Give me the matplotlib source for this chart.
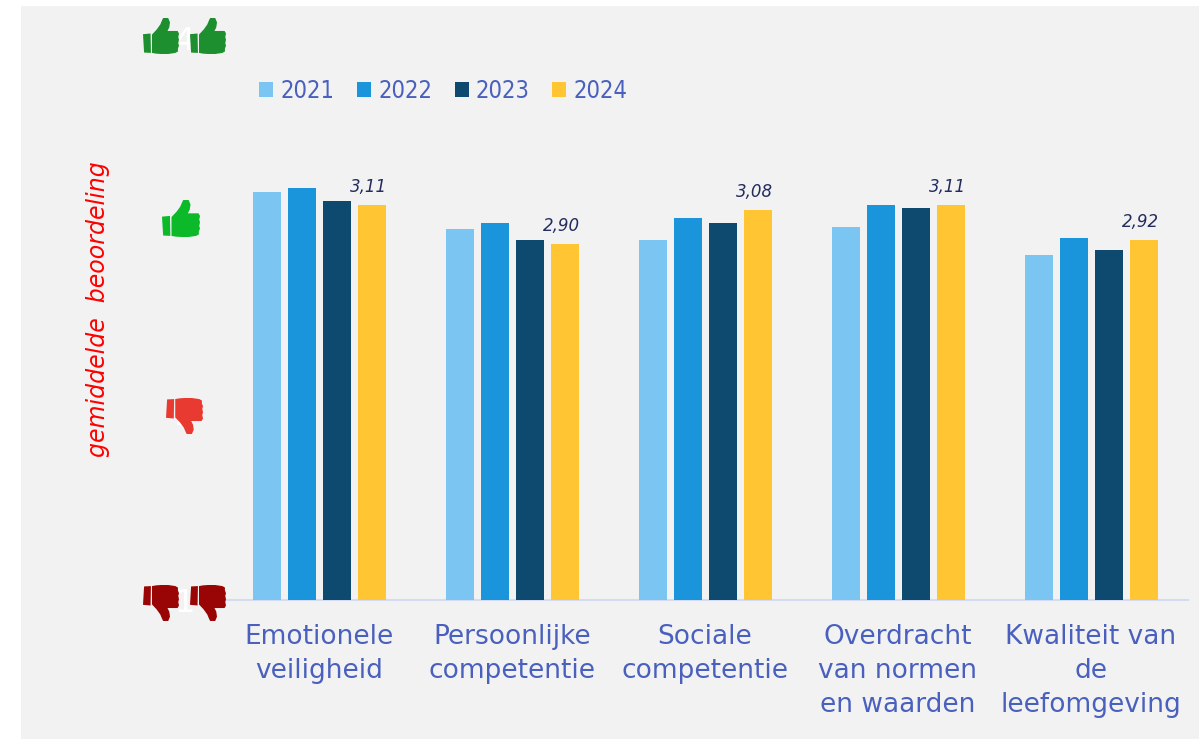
import numpy as np
import matplotlib
matplotlib.use("Agg")
import matplotlib.pyplot as plt
from matplotlib.patches import Polygon, Rectangle

categories = ["Emotionele\nveiligheid", "Persoonlijke\ncompetentie", "Sociale\ncompetentie",
              "Overdracht\nvan normen\nen waarden", "Kwaliteit van\nde\nleefomgeving"]
years = ["2021", "2022", "2023", "2024"]
v2021 = [3.18, 2.98, 2.92, 2.99, 2.84]
v2022 = [3.20, 3.01, 3.04, 3.11, 2.93]
v2023 = [3.13, 2.92, 3.01, 3.09, 2.87]
v2024 = [3.11, 2.90, 3.08, 3.11, 2.92]
y_ticks = [1, 2, 3, 4]

colors = ["#7AC5F2", "#1A94DA", "#0E4A70", "#FFC533"]
text_blue = "#4A60BE"

W, H = 1204, 739
plt.rcParams["font.family"] = "DejaVu Sans"

fig = plt.figure(figsize=(W / 100, H / 100), dpi=100, facecolor="white")
fig.add_artist(Rectangle((21 / W, 0), (1199 - 21) / W, (739 - 6) / H, transform=fig.transFigure,
                         facecolor="#F2F2F2", edgecolor="none", zorder=-5))

ax = fig.add_axes([222.5 / W, (H - 600) / H, 965 / W, 562 / H])
ax.patch.set_alpha(0)

x = np.arange(len(categories))
offset = 35 / 193
width = 28 / 193
all_values = [v2021, v2022, v2023, v2024]
for i, vals in enumerate(all_values):
    ax.bar(x + (i - 1.5) * offset, vals, width, color=colors[i], label=years[i], zorder=3)

# only the last year gets a value label
for xi, v in zip(x, v2024):
    ax.annotate(f"{v:.2f}".replace(".", ","), (xi + 1.5 * offset, v), xytext=(-2, 6.5),
                textcoords="offset points", ha="center", va="bottom", fontsize=12,
                style="italic", color="#232C5E")

ax.set_xlim(-0.5, 4.5)
ax.set_ylim(1, 4)
ax.set_xticks(x, categories, fontsize=19, color=text_blue, linespacing=1.4)
ax.set_yticks(y_ticks, [str(t) for t in y_ticks], fontsize=23, color="white")
ax.tick_params(axis="x", length=0, pad=17.5)
ax.tick_params(axis="y", length=0, pad=20)
for s in ["top", "right", "left"]:
    ax.spines[s].set_visible(False)
ax.spines["bottom"].set_color("#D5DBF0")
ax.spines["bottom"].set_linewidth(1.5)

ax.legend(ncol=4, loc="upper left", bbox_to_anchor=(238 / W, (H - 58) / H),
          bbox_transform=fig.transFigure, frameon=False, labelcolor=text_blue,
          handlelength=0.6, handleheight=0.6, handletextpad=0.3, columnspacing=0.95,
          prop={"size": 17, "stretch": "condensed"})

fig.text(98 / W, (H - 309) / H, "gemiddelde  beoordeling", rotation=90, ha="center", va="center",
         fontsize=17, style="italic", color="#FF0000")

# thumb icon outline in a unit box
cuff = [(0, .55), (.21, .57), (.22, .03), (.03, .04)]
hand = [(.25, .03), (.25, .54), (.38, .68), (.48, .82), (.53, .94), (.56, 1.0), (.70, 1.0), (.75, .88),
        (.73, .74), (.68, .64), (.96, .64), (1, .57), (.98, .47), (1, .4), (.98, .3), (1, .23),
        (.97, .15), (.97, .07), (.9, .03), (.7, .0), (.5, .0), (.36, .01)]


def thumb(left, top, w, h, color, down=False):
    for shape in (cuff, hand):
        pts = []
        for px, py in shape:
            if down:
                py = 1 - py
            pts.append(((left + px * w) / W, (H - top - (1 - py) * h) / H))
        fig.add_artist(Polygon(pts, closed=True, transform=fig.transFigure, facecolor=color,
                               edgecolor="none", zorder=5))


thumb(143, 18, 36, 36, "#1D8F2E")
thumb(190, 18, 36, 36, "#1D8F2E")
thumb(162, 200, 38, 37, "#0CB928")
thumb(166, 398, 37, 36, "#E83A30", down=True)
thumb(143, 585, 36, 36, "#990505", down=True)
thumb(190, 585, 36, 36, "#990505", down=True)

fig.savefig("out.png", dpi=100)
